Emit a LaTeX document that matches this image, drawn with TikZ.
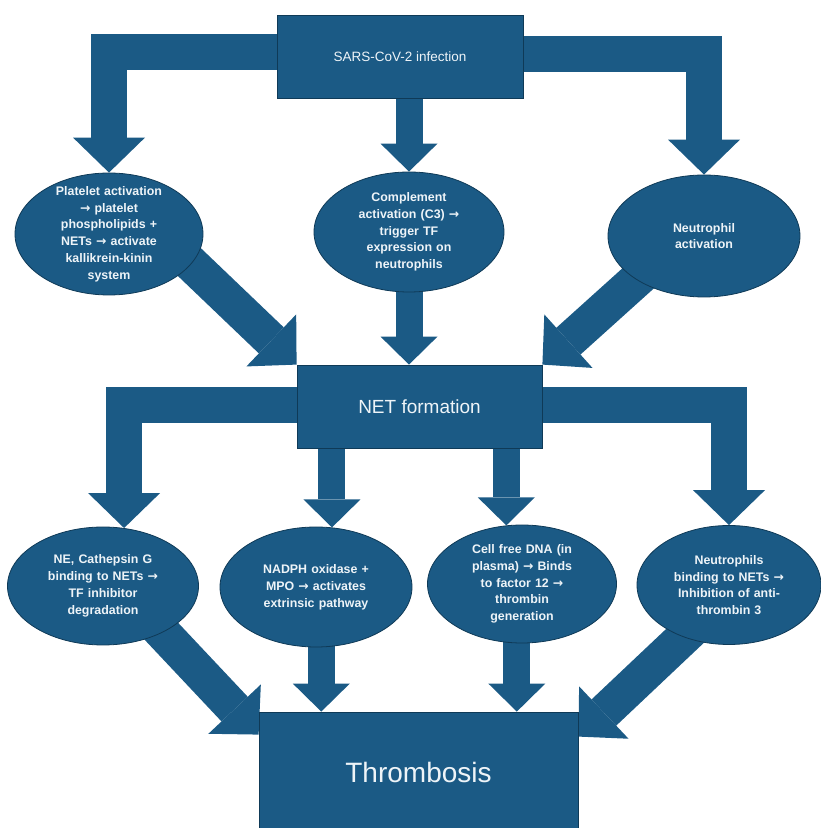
\documentclass[tikz,border=0pt]{standalone}
\usepackage{fontspec}
\setmainfont{Liberation Sans}
\newfontfamily\arrowfont{DejaVu Sans}
\usetikzlibrary{shapes.geometric, arrows.meta, calc}
\definecolor{netblue}{HTML}{1B5A85}
\definecolor{netedge}{HTML}{0F3A57}
\definecolor{nettext}{HTML}{EEF4F8}
\newcommand{\goesto}{{\arrowfont\bfseries →}}
\pgfdeclarelayer{flows}
\pgfsetlayers{flows,main}
\tikzset{
  blockbox/.style={rectangle, draw=netedge, fill=netblue, line width=0.8pt, text=nettext, inner sep=0pt},
  oval/.style={ellipse, draw=netedge, fill=netblue, line width=0.8pt, text=nettext, align=center,
    text width=126pt, inner xsep=0pt, inner ysep=-16pt, font=\bfseries\fontsize{12.4}{16.8}\selectfont},
  wideflow/.style={draw=netblue, line width=36pt, -{Triangle[length=35pt,width=72pt,line width=0pt]}},
  narrowflow/.style={draw=netblue, line width=27pt, -{Triangle[length=28pt,width=57pt,line width=0pt]}},
}

\begin{document}
\begin{tikzpicture}[x=1pt, y=1pt]
\useasboundingbox (0,0) rectangle (821,828);

% boxes
\node[blockbox, minimum width=246pt, minimum height=83pt, font=\fontsize{13.5}{16}\selectfont] (infect) at (400,771.5) {SARS-CoV-2 infection};
\node[blockbox, minimum width=245pt, minimum height=83pt, font=\fontsize{19}{22}\selectfont] (net) at (419.5,421.5) {NET formation};
\node[blockbox, minimum width=319pt, minimum height=120pt, font=\fontsize{28}{32}\selectfont] (thromb) at (418.5,56) {Thrombosis};

% first row
\node[oval, minimum width=188pt, minimum height=122pt] (plat) at (109,594) {Platelet activation\\ \goesto{} platelet\\ phospholipids +\\ NETs \goesto{} activate\\ kallikrein-kinin\\ system};
\node[oval, minimum width=190pt, minimum height=120pt] (comp) at (409,596) {Complement\\ activation (C3) \goesto\\ trigger TF\\ expression on\\ neutrophils};
\node[oval, minimum width=192pt, minimum height=122pt] (neuact) at (704,592) {Neutrophil\\ activation};

% second row
\node[oval, minimum width=191pt, minimum height=118pt] (ne) at (103,242) {NE, Cathepsin G\\ binding to NETs \goesto\\ TF inhibitor\\ degradation};
\node[oval, minimum width=192pt, minimum height=120pt] (nadph) at (316,241) {NADPH oxidase +\\ MPO \goesto{} activates\\ extrinsic pathway};
\node[oval, minimum width=189pt, minimum height=118pt] (cfdna) at (522,244) {Cell free DNA (in\\ plasma) \goesto{} Binds\\ to factor 12 \goesto\\ thrombin\\ generation};
\node[oval, minimum width=184pt, minimum height=119pt] (nbind) at (729,243) {Neutrophils\\ binding to NETs \goesto\\ Inhibition of anti-\\ thrombin 3};

% block arrows
\begin{pgfonlayer}{flows}
\draw[wideflow] ([yshift=4pt]infect.west) -| (plat.north);
\draw[narrowflow] (infect.south -| comp.north) -- (comp.north);
\draw[wideflow] ([yshift=2pt]infect.east) -| (neuact.north);
\draw[wideflow, shorten <=-20pt] (plat.-20) -- (net.north west);
\draw[narrowflow, shorten <=-12pt] (comp.south) -- (comp.south |- net.north);
\draw[wideflow, shorten <=-20pt] (neuact.213) -- (net.north east);
\draw[wideflow] ([yshift=1pt]net.west) -| (ne.70);
\draw[narrowflow] (net.south -| nadph.75) -- (nadph.75);
\draw[narrowflow] (net.south -| cfdna.105) -- (cfdna.105);
\draw[wideflow] ([yshift=1pt]net.east) -| (nbind.north);
\draw[wideflow, shorten <=-20pt] (ne.-38) -- ([yshift=-23pt]thromb.north west);
\draw[narrowflow, shorten <=-12pt] (nadph.-85) -- (nadph.-85 |- thromb.north);
\draw[narrowflow, shorten <=-12pt] (cfdna.-95) -- (cfdna.-95 |- thromb.north);
\draw[wideflow, shorten <=-20pt] (nbind.229) -- ([yshift=-25pt]thromb.north east);
\end{pgfonlayer}
\end{tikzpicture}
\end{document}
